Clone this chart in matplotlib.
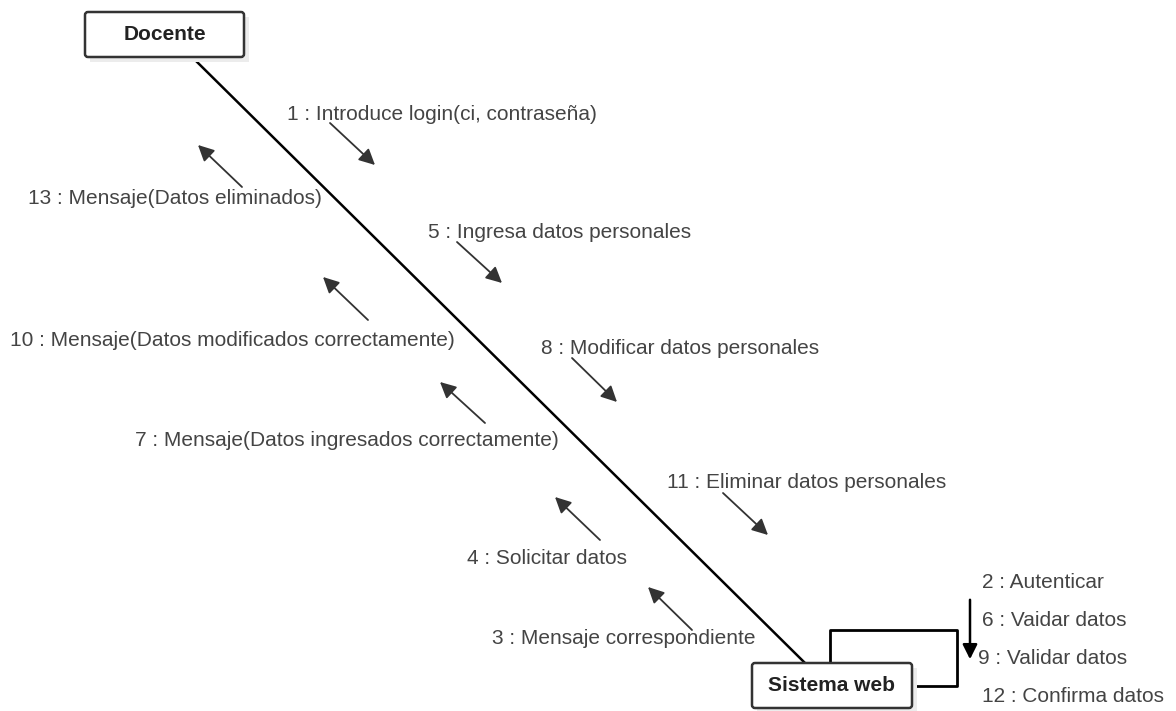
import matplotlib.pyplot as plt
from matplotlib.patches import FancyBboxPatch, Rectangle

# objects (name, x0, y0, x1, y1) in pixel coords, y down
objects = [('Docente', 85, 12, 244, 57),
           ('Sistema web', 752, 663, 912, 708)]

# messages along the link
msg_labels = ['1 : Introduce login(ci, contraseña)',
              '13 : Mensaje(Datos eliminados)',
              '5 : Ingresa datos personales',
              '10 : Mensaje(Datos modificados correctamente)',
              '8 : Modificar datos personales',
              '7 : Mensaje(Datos ingresados correctamente)',
              '11 : Eliminar datos personales',
              '4 : Solicitar datos',
              '3 : Mensaje correspondiente']
msg_text_xy = [(287, 115), (28, 198), (428, 232), (10, 340), (541, 349),
               (135, 440), (667, 483), (467, 559), (492, 639)]
msg_tail = [(330, 123), (242, 187), (457, 242), (368, 320), (572, 358),
            (485, 423), (723, 493), (600, 540), (692, 630)]
msg_tip = [(375, 165), (198, 145), (502, 283), (323, 277), (617, 402),
           (440, 382), (768, 535), (555, 497), (648, 587)]

# self messages on Sistema web
self_labels = ['2 : Autenticar', '6 : Vaidar datos', '9 : Validar datos', '12 : Confirma datos']
self_text_xy = [(982, 583), (982, 621), (978, 659), (982, 697)]

fig = plt.figure(figsize=(11.76, 7.11), dpi=100)
ax = fig.add_axes([0, 0, 1, 1])
ax.set_xlim(0, 1176)
ax.set_ylim(711, 0)
ax.axis('off')

# main link
ax.plot([192, 805], [57, 663], color='black', lw=1.8, zorder=1)

# self loop
ax.plot([830, 830, 957, 957, 912], [663, 630, 630, 686, 686], color='black', lw=2, zorder=1)
ax.annotate('', xy=(970, 662), xytext=(970, 597),
            arrowprops=dict(arrowstyle='-|>', color='black', lw=1.8, mutation_scale=22))

for name, x0, y0, x1, y1 in objects:
    ax.add_patch(Rectangle((x0 + 5, y0 + 5), x1 - x0, y1 - y0, facecolor='#ececec',
                           edgecolor='none', zorder=2))
    ax.add_patch(FancyBboxPatch((x0, y0), x1 - x0, y1 - y0,
                                boxstyle='round,pad=0,rounding_size=3',
                                facecolor='white', edgecolor='#333333', lw=1.8, zorder=3))
    ax.text((x0 + x1) / 2, (y0 + y1) / 2, name, ha='center', va='center',
            fontsize=15, fontweight='bold', color='#222222',
            family='Liberation Sans', zorder=4)

for lab, (tx, ty), tail, tip in zip(msg_labels, msg_text_xy, msg_tail, msg_tip):
    ax.text(tx, ty, lab, ha='left', va='center', fontsize=15, color='#444444',
            family='Liberation Sans')
    ax.annotate('', xy=tip, xytext=tail,
                arrowprops=dict(arrowstyle='-|>', color='#333333', lw=1.3,
                                mutation_scale=24, shrinkA=0, shrinkB=0))

for lab, (tx, ty) in zip(self_labels, self_text_xy):
    ax.text(tx, ty, lab, ha='left', va='center', fontsize=15, color='#444444',
            family='Liberation Sans')

fig.savefig('out.png', dpi=100, facecolor='white')
